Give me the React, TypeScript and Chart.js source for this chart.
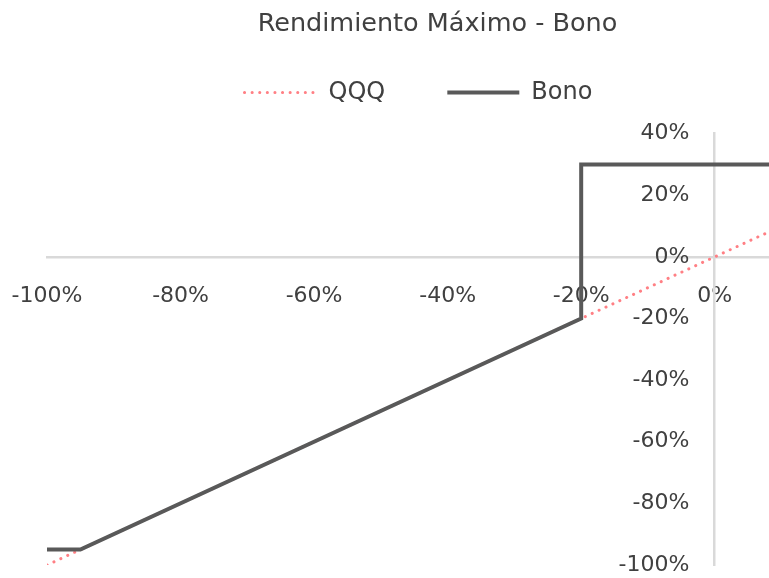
import React, { useEffect, useRef } from "react";
import { Chart, registerables } from "chart.js";

Chart.register(...registerables);

const chartTitle = "Rendimiento Máximo - Bono";
const qqqLabel = "QQQ";
const bonoLabel = "Bono";
const qqqX = [-100, -95, -20, 0, 24];
const qqqY = [-100, -95, -20, 0, 24];
const bonoX = [-100, -95, -20, -20, 24];
const bonoY = [-95, -95, -20, 30, 30];
const xTicks = [-100, -80, -60, -40, -20, 0];
const yTicks = [40, 20, 0, -20, -40, -60, -80, -100];
const xMin = -100;
const xMax = 24;
const yMin = -100;
const yMax = 40;

const FONT = "'DejaVu Sans', sans-serif";
const TEXT = "#404040";
const QQQ_COLOR = "#ff7f84";
const BONO_COLOR = "#595959";
const AXIS_COLOR = "#d9d9d9";

export default function App() {
  const ref = useRef<HTMLCanvasElement>(null);
  useEffect(() => {
    const ctx = ref.current!;
    const legendTexts = [qqqLabel + "     ", bonoLabel + "     "];
    const chart = new Chart(ctx, {
      type: "scatter",
      data: {
        datasets: [
          {
            label: qqqLabel,
            data: qqqX.map((x, i) => ({ x, y: qqqY[i] })),
            showLine: true,
            borderColor: QQQ_COLOR,
            backgroundColor: QQQ_COLOR,
            borderWidth: 3,
            borderDash: [0.1, 7.5],
            borderCapStyle: "round",
            pointRadius: 0,
            order: 2,
          },
          {
            label: bonoLabel,
            data: bonoX.map((x, i) => ({ x, y: bonoY[i] })),
            showLine: true,
            borderColor: BONO_COLOR,
            backgroundColor: BONO_COLOR,
            borderWidth: 4,
            borderJoinStyle: "miter",
            pointRadius: 0,
            order: 1,
          },
        ],
      },
      options: {
        animation: false,
        responsive: false,
        layout: { padding: 0 },
        plugins: {
          title: {
            display: true,
            text: chartTitle,
            color: TEXT,
            font: { family: FONT, size: 25.5, weight: "normal" },
            padding: { top: 9, bottom: 17 },
          },
          subtitle: {
            display: true,
            text: "",
            weight: 500,
            font: { family: FONT, size: 10 },
            padding: { top: 7, bottom: 0 },
          },
          legend: {
            display: true,
            weight: 1000,
            labels: {
              usePointStyle: true,
              pointStyle: "line",
              pointStyleWidth: 72,
              boxWidth: 72,
              padding: 24,
              color: TEXT,
              font: { family: FONT, size: 24 },
              generateLabels: (c: any) =>
                c.data.datasets.map((ds: any, i: number) => ({
                  text: legendTexts[i],
                  fillStyle: ds.borderColor,
                  strokeStyle: ds.borderColor,
                  lineWidth: ds.borderWidth,
                  lineDash: ds.borderDash || [],
                  lineCap: ds.borderCapStyle || "butt",
                  pointStyle: "line",
                  hidden: false,
                  datasetIndex: i,
                  fontColor: TEXT,
                })),
            },
          },
          tooltip: { enabled: false },
        },
        scales: {
          x: {
            type: "linear",
            min: xMin,
            max: xMax,
            position: { y: 0 },
            grid: { display: false, drawTicks: false },
            border: { display: true, color: AXIS_COLOR, width: 2.5 },
            afterBuildTicks: (s: any) => {
              s.ticks = xTicks.map((v) => ({ value: v }));
            },
            afterFit: (s: any) => {
              s.paddingLeft = 47;
              s.paddingRight = 0;
              s.paddingTop = 0;
              s.paddingBottom = 0;
            },
            ticks: {
              color: TEXT,
              font: { family: FONT, size: 22 },
              padding: 26,
              maxRotation: 0,
              autoSkip: false,
              callback: (v: any) => v + "%",
            },
          },
          y: {
            type: "linear",
            min: yMin,
            max: yMax,
            position: { x: 0 },
            grid: { display: false, drawTicks: false },
            border: { display: true, color: AXIS_COLOR, width: 2.5 },
            afterBuildTicks: (s: any) => {
              s.ticks = yTicks.map((v) => ({ value: v }));
            },
            afterFit: (s: any) => {
              s.paddingLeft = 0;
              s.paddingRight = 0;
              s.paddingTop = 0;
              s.paddingBottom = 13;
            },
            ticks: {
              color: TEXT,
              font: { family: FONT, size: 22 },
              padding: 0,
              autoSkip: false,
              callback: (v: any) => v + "%" + "   \u2009",
            },
          },
        },
      },
    });
    return () => chart.destroy();
  }, []);
  return (
    <div
      style={{
        position: "absolute",
        left: 0,
        top: 0,
        width: 769,
        height: 578,
        overflow: "hidden",
        background: "#fff",
      }}
    >
      <canvas ref={ref} width={875} height={578} style={{ display: "block" }} />
    </div>
  );
}
